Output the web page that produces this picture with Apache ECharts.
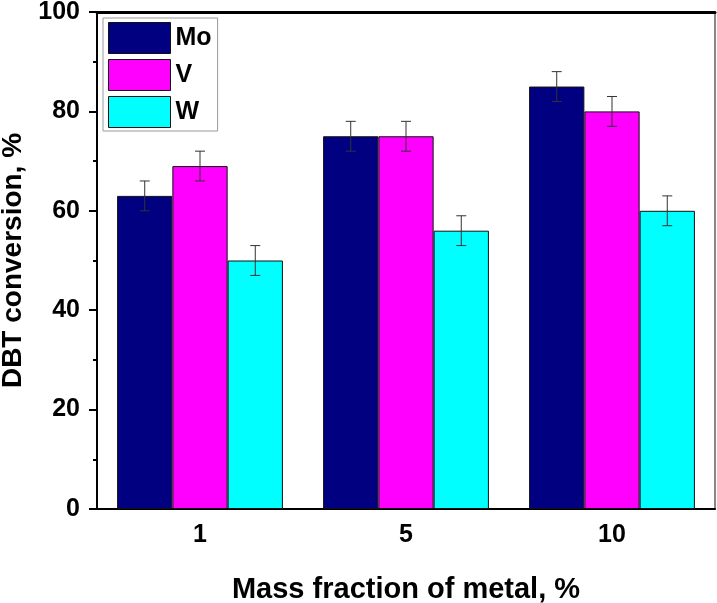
<!DOCTYPE html>
<html lang="en">
<head>
    <meta charset="UTF-8">
    <title>DBT conversion</title>
    <script src="https://cdn.jsdelivr.net/npm/echarts@6/dist/echarts.min.js"></script>
</head>
<body style="margin:0">
    <div id="main" style="width:717px; height:603px;"></div>
    <script type="text/javascript">
        var categories = ['1', '5', '10'];
        var metals = ['Mo', 'V', 'W'];
        var colors = ['#000080', '#FF00FF', '#00FFFF'];
        var moValues = [63, 75, 85];
        var vValues = [69, 75, 80];
        var wValues = [50, 56, 60];
        var moErr = [3, 3, 3];
        var vErr = [3, 3, 3];
        var wErr = [3, 3, 3];

        var values = [moValues, vValues, wValues];
        var errors = [moErr, vErr, wErr];
        var catGap = 0.195;

        var myChart = echarts.init(document.getElementById('main'));
        var font = 'Liberation Sans, Arial, sans-serif';

        function errorSeries(k) {
            var data = values[k].map(function (v, i) {
                return [i, v - errors[k][i], v + errors[k][i]];
            });
            return {
                type: 'custom',
                name: metals[k] + ' err',
                xAxisIndex: 0,
                yAxisIndex: 0,
                z: 5,
                data: data,
                renderItem: function (params, api) {
                    var band = api.size([1, 0])[0];
                    var barW = band * (1 - catGap) / 3;
                    var lo = api.coord([api.value(0), api.value(1)]);
                    var hi = api.coord([api.value(0), api.value(2)]);
                    var x = lo[0] + (k - 1) * barW;
                    var half = 5;
                    var style = { stroke: '#333', lineWidth: 1 };
                    return {
                        type: 'group',
                        children: [
                            { type: 'line', shape: { x1: x, y1: lo[1], x2: x, y2: hi[1] }, style: style },
                            { type: 'line', shape: { x1: x - half, y1: lo[1], x2: x + half, y2: lo[1] }, style: style },
                            { type: 'line', shape: { x1: x - half, y1: hi[1], x2: x + half, y2: hi[1] }, style: style }
                        ]
                    };
                }
            };
        }

        var series = [];
        for (var k = 0; k < 3; k++) {
            series.push({
                name: metals[k],
                type: 'bar',
                xAxisIndex: 0,
                yAxisIndex: 0,
                data: values[k],
                barGap: '0%',
                barCategoryGap: (catGap * 100) + '%',
                itemStyle: { color: colors[k], borderColor: '#111', borderWidth: 1 }
            });
        }
        for (var k = 0; k < 3; k++) series.push(errorSeries(k));

        myChart.setOption({
            backgroundColor: '#fff',
            animation: false,
            textStyle: { fontFamily: font },
            legend: {
                orient: 'vertical',
                left: 103,
                top: 18,
                data: metals,
                itemWidth: 62,
                itemHeight: 31,
                itemGap: 5,
                padding: [4, 6, 3, 5],
                borderColor: '#999',
                borderWidth: 1,
                icon: 'rect',
                textStyle: { fontSize: 25, fontWeight: 'bold', color: '#000', fontFamily: font },
                itemStyle: { borderColor: '#111', borderWidth: 1 }
            },
            grid: { left: 97, right: 2, top: 12, bottom: 94, containLabel: false, outerBoundsMode: 'none' },
            xAxis: [
                {
                    type: 'category',
                    data: categories,
                    position: 'bottom',
                    name: 'Mass fraction of metal, %',
                    nameLocation: 'middle',
                    nameGap: 66,
                    nameTextStyle: { fontSize: 29, fontWeight: 'bold', color: '#000', fontFamily: font },
                    axisLine: { lineStyle: { color: '#000', width: 2 } },
                    axisTick: { alignWithLabel: true, length: 8, lineStyle: { color: '#000', width: 2 } },
                    axisLabel: { fontSize: 25, fontWeight: 'bold', color: '#000', margin: 14, fontFamily: font },
                    splitLine: { show: false }
                },
                {
                    type: 'category',
                    data: categories,
                    position: 'bottom',
                    axisLine: { show: false },
                    axisTick: { alignWithLabel: false, length: 4, lineStyle: { color: '#000', width: 2 } },
                    axisLabel: { show: false },
                    splitLine: { show: false }
                },
                {
                    type: 'category',
                    data: categories,
                    position: 'top',
                    axisLine: { lineStyle: { color: '#000', width: 3 } },
                    axisTick: { show: false },
                    axisLabel: { show: false }
                }
            ],
            yAxis: [
                {
                    type: 'value',
                    min: 0,
                    max: 100,
                    interval: 20,
                    name: 'DBT conversion, %',
                    nameLocation: 'middle',
                    nameGap: 68,
                    nameTextStyle: { fontSize: 28, fontWeight: 'bold', color: '#000', fontFamily: font },
                    axisLine: { show: true, lineStyle: { color: '#000', width: 2 } },
                    axisTick: { show: true, length: 8, lineStyle: { color: '#000', width: 2 } },
                    minorTick: { show: true, splitNumber: 2, length: 4, lineStyle: { color: '#000', width: 2 } },
                    axisLabel: { fontSize: 25, fontWeight: 'bold', color: '#000', margin: 17, fontFamily: font },
                    splitLine: { show: false }
                },
                {
                    type: 'value',
                    min: 0,
                    max: 100,
                    position: 'right',
                    axisLine: { show: true, lineStyle: { color: '#888', width: 2 } },
                    axisTick: { show: false },
                    axisLabel: { show: false },
                    splitLine: { show: false }
                }
            ],
            series: series
        });
    </script>
</body>
</html>
